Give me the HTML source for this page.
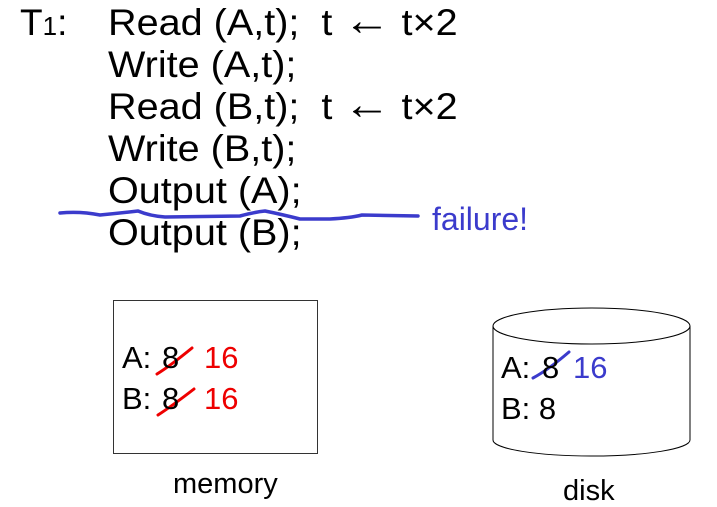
<!DOCTYPE html>
<html><head><style>
html,body{margin:0;padding:0;background:#fff;width:717px;height:505px;overflow:hidden}
.t{position:absolute;font-family:"Liberation Sans",sans-serif;white-space:nowrap;line-height:1}
</style></head><body>
<div class="t" style="left:20px;top:4px;font-size:37px">T<span style="font-size:26px">1</span>:</div>
<div class="t" style="left:108px;top:2px;font-size:37px;line-height:42px;transform:scaleX(1.07);transform-origin:0 0">Read (A,t);&nbsp; t <span style="font-size:44px;line-height:30px">←</span> t×2<br>Write (A,t);<br>Read (B,t);&nbsp; t <span style="font-size:44px;line-height:30px">←</span> t×2<br>Write (B,t);<br>Output (A);<br>Output (B);</div>
<svg width="717" height="505" style="position:absolute;left:0;top:0">
<path d="M60 213 Q80 211 100 215 Q120 213 138 211 Q150 216 165 217 L240 216 Q255 212 265 211 Q280 214 300 219 L330 219 Q350 218 362 215 L418 216" fill="none" stroke="#3b3bcc" stroke-width="3.5" stroke-linecap="round"/>
<rect x="113.5" y="300.5" width="204" height="153" fill="none" stroke="#333" stroke-width="1"/>
<path d="M493 326 L493 440 A98.5 16 0 0 0 690 440 L690 326" fill="none" stroke="#000"/>
<ellipse cx="591.5" cy="326" rx="98.5" ry="18" fill="none" stroke="#000"/>
<path d="M157 374 Q170 366 192 348" stroke="#e00" stroke-width="3" fill="none" stroke-linecap="round"/>
<path d="M158 415 Q172 406 194 389" stroke="#e00" stroke-width="3" fill="none" stroke-linecap="round"/>
<path d="M533 378 Q548 370 569 352" stroke="#3b3bcc" stroke-width="3" fill="none" stroke-linecap="round"/>
</svg>
<div class="t" style="left:432px;top:203px;font-size:32px;color:#3b3bcc">failure!</div>
<div class="t" style="left:122px;top:342px;font-size:31px">A:</div>
<div class="t" style="left:162px;top:342px;font-size:31px">8</div>
<div class="t" style="left:204px;top:342px;font-size:31px;color:#e00">16</div>
<div class="t" style="left:122px;top:383px;font-size:31px">B:</div>
<div class="t" style="left:162px;top:383px;font-size:31px">8</div>
<div class="t" style="left:204px;top:383px;font-size:31px;color:#e00">16</div>
<div class="t" style="left:501px;top:352px;font-size:31px">A:</div>
<div class="t" style="left:542px;top:352px;font-size:31px">8</div>
<div class="t" style="left:573px;top:352px;font-size:31px;color:#3b3bcc">16</div>
<div class="t" style="left:501px;top:393px;font-size:31px">B: 8</div>
<div class="t" style="left:173px;top:470px;font-size:29px">memory</div>
<div class="t" style="left:563px;top:477px;font-size:29px">disk</div>
</body></html>
